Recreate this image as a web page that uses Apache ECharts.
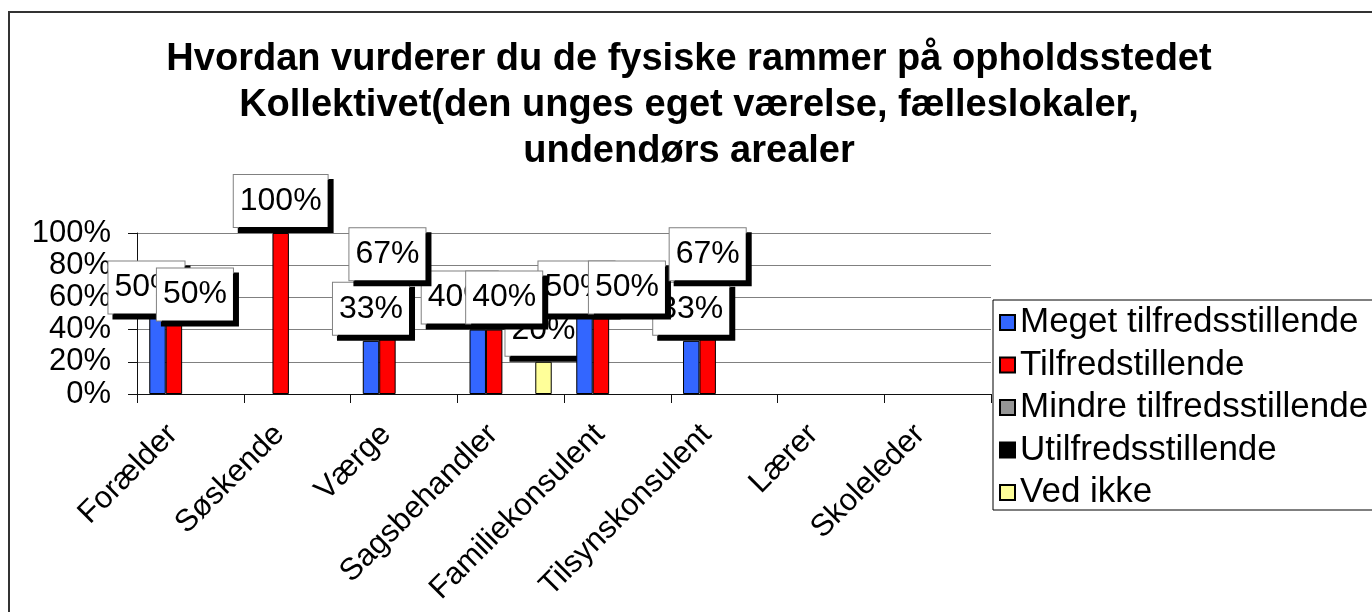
<!DOCTYPE html>
<html>
<head>
<meta charset="utf-8">
<title>Fysiske rammer - Kollektivet</title>
<script src="https://cdn.jsdelivr.net/npm/echarts@6/dist/echarts.min.js"></script>
<style>
  html, body { margin: 0; padding: 0; background: #fff; }
  #chart { width: 1372px; height: 612px; }
</style>
</head>
<body>
<div id="chart"></div>
<script>
// data (percent per respondent group)
const categories = ['Forælder', 'Søskende', 'Værge', 'Sagsbehandler', 'Familiekonsulent', 'Tilsynskonsulent', 'Lærer', 'Skoleleder'];
const seriesNames = ['Meget tilfredsstillende', 'Tilfredstillende', 'Mindre tilfredsstillende', 'Utilfredsstillende', 'Ved ikke'];
const megetTilfreds = [50, 0, 33, 40, 50, 33, 0, 0];
const tilfreds = [50, 100, 67, 40, 50, 67, 0, 0];
const mindreTilfreds = [0, 0, 0, 0, 0, 0, 0, 0];
const utilfreds = [0, 0, 0, 0, 0, 0, 0, 0];
const vedIkke = [0, 0, 0, 20, 0, 0, 0, 0];
const yTicks = [0, 20, 40, 60, 80, 100];

const titleLines = [
  'Hvordan vurderer du de fysiske rammer på opholdsstedet',
  'Kollektivet(den unges eget værelse, fælleslokaler,',
  'undendørs arealer'
];
const colors = ['#3366FF', '#FF0000', '#969696', '#000000', '#FFFF99'];
const FONT = '"Liberation Sans", Arial, Helvetica, sans-serif';

// the labels in the original were dragged a bit by hand where they collided
// [dx, dy] in px, per series index
const labelNudge = {
  'Forælder': { 0: [-11, 6], 1: [21, 13] },
  'Sagsbehandler': { 0: [-18, 0], 1: [10, 0] },
  'Familiekonsulent': { 0: [-8, 6], 1: [26, 6] },
};

const seriesValues = [megetTilfreds, tilfreds, mindreTilfreds, utilfreds, vedIkke];

const chart = echarts.init(document.getElementById('chart'));

function buildData(i) {
  // excel leaves zero values empty, no bar and no label
  return seriesValues[i].map((v, j) => {
    if (v === 0) return '-';
    const nudge = labelNudge[categories[j]] && labelNudge[categories[j]][i];
    if (!nudge) return v;
    return { value: v, label: { offset: nudge } };
  });
}

function buildSeries() {
  return seriesNames.map((name, i) => ({
    name,
    type: 'bar',
    // "Ved ikke" label sits underneath the 50% boxes in the original
    z: i === 4 ? 1 : 2,
    barGap: '0%',
    barCategoryGap: '23%',
    data: buildData(i),
    itemStyle: {
      color: colors[i],
      borderColor: '#000',
      borderWidth: 1,
    },
    label: {
      show: true,
      position: 'top',
      distance: 6,
      formatter: '{c}%',
      fontFamily: FONT,
      fontSize: 32,
      lineHeight: 32,
      color: '#000',
      backgroundColor: '#fff',
      borderColor: '#808080',
      borderWidth: 1,
      padding: [10, 6],
      shadowColor: '#000',
      shadowBlur: 0,
      shadowOffsetX: 5,
      shadowOffsetY: 5,
    },
    emphasis: { disabled: true },
  }));
}

const option = {
  backgroundColor: '#fff',
  animation: false,
  color: colors,
  title: {
    text: titleLines.join('\n'),
    left: 684,
    top: 32,
    textAlign: 'center',
    textStyle: {
      fontFamily: FONT,
      fontSize: 38,
      fontWeight: 'bold',
      lineHeight: 46,
      color: '#000',
    },
  },
  graphic: [
    {
      type: 'rect',
      z: -1,
      shape: { x: 9, y: 12, width: 1420, height: 700 },
      style: { fill: 'none', stroke: '#333', lineWidth: 2 },
    },
  ],
  legend: {
    orient: 'vertical',
    left: 993,
    top: 300,
    icon: 'rect',
    itemWidth: 15,
    itemHeight: 15,
    itemGap: 7.5,
    padding: [5, 60, 0, 6],
    backgroundColor: '#fff',
    borderColor: '#000',
    borderWidth: 1,
    borderRadius: 0,
    textStyle: {
      fontFamily: FONT,
      fontSize: 35,
      lineHeight: 35,
      color: '#000',
    },
  },
  grid: {
    left: 137,
    right: 381,
    top: 233,
    bottom: 218,
  },
  xAxis: {
    type: 'category',
    data: categories,
    axisLine: { lineStyle: { color: '#111', width: 1 } },
    axisTick: { show: true, length: 9, lineStyle: { color: '#111' } },
    axisLabel: {
      rotate: 45,
      margin: 18,
      interval: 0,
      fontFamily: FONT,
      fontSize: 31,
      color: '#000',
      // pushes the rotated text down-left, like excel's placement
      padding: [0, 25, 0, 0],
    },
  },
  yAxis: {
    type: 'value',
    min: yTicks[0],
    max: yTicks[yTicks.length - 1],
    interval: yTicks[1] - yTicks[0],
    axisLine: { show: true, lineStyle: { color: '#111', width: 1 } },
    axisTick: { show: true, length: 9, lineStyle: { color: '#111' } },
    splitLine: { show: true, lineStyle: { color: '#808080', width: 1 } },
    axisLabel: {
      formatter: '{value}%',
      margin: 26,
      fontFamily: FONT,
      fontSize: 31,
      color: '#000',
    },
  },
  series: buildSeries(),
};

chart.setOption(option);
</script>
</body>
</html>
